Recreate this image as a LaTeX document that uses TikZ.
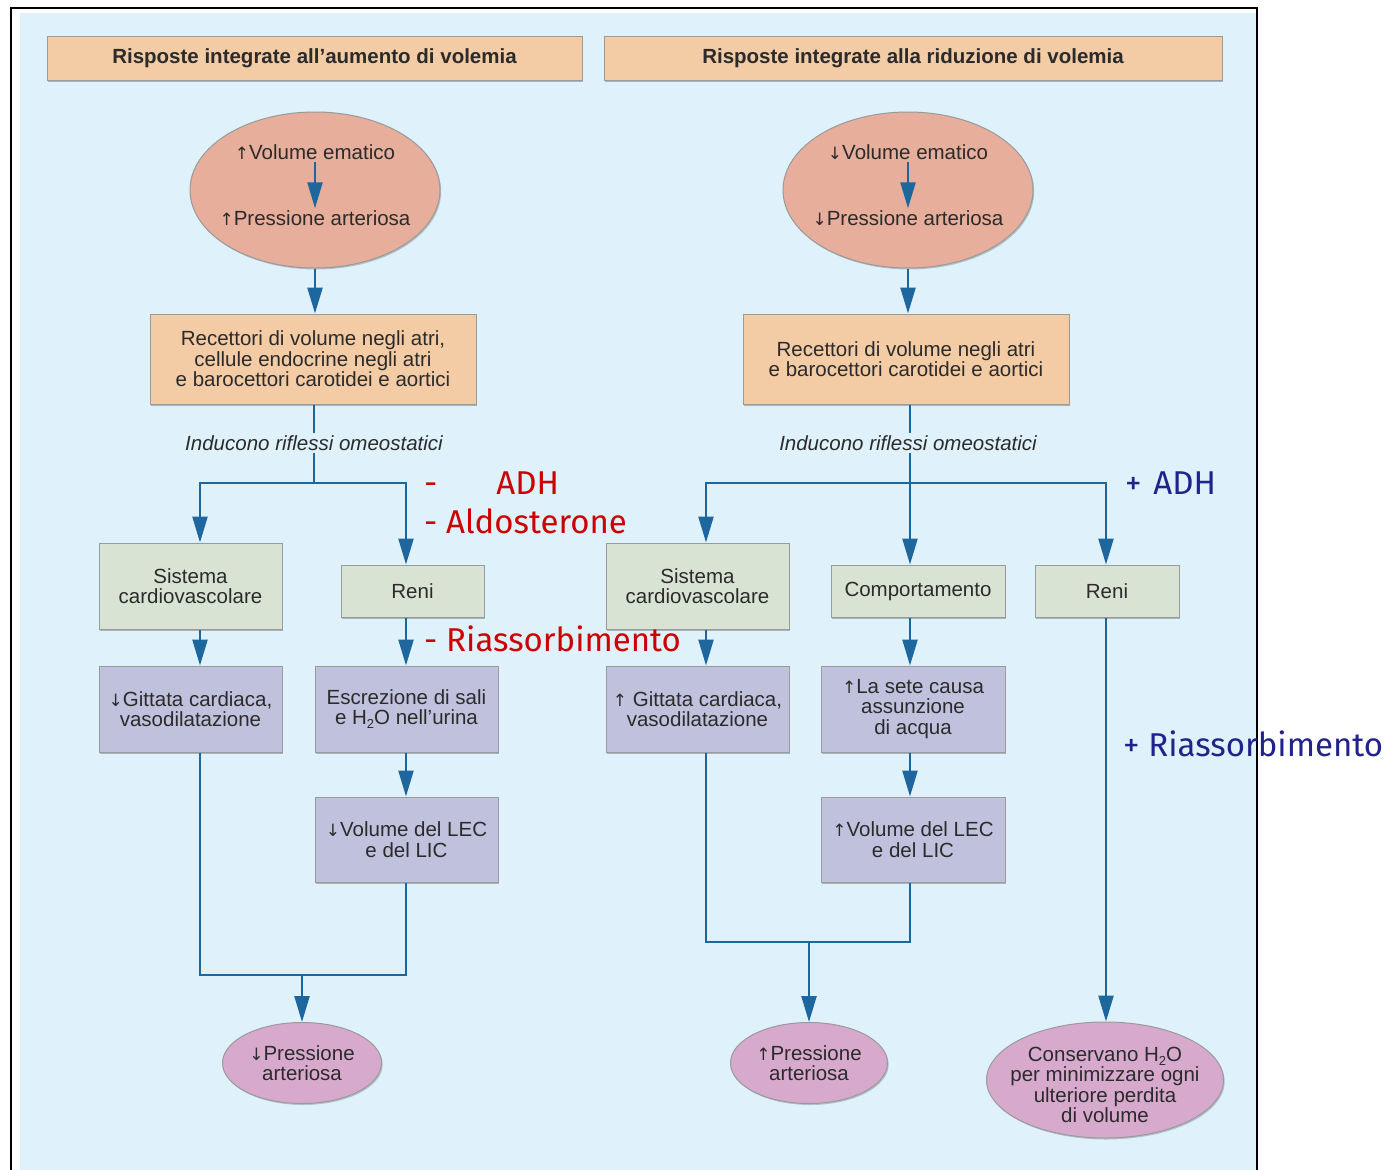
\documentclass[tikz,border=0pt]{standalone}
\usepackage{fontspec}
\setmainfont{Liberation Sans}
\newfontfamily\notefont{Fira Sans}
\newfontfamily\arrowfont{DejaVu Sans}
\usetikzlibrary{arrows.meta,shapes.geometric,shadows}

\definecolor{panelbg}{HTML}{DFF1FB}
\definecolor{peach}{HTML}{F3CBA4}
\definecolor{salmon}{HTML}{E6AE9B}
\definecolor{sage}{HTML}{D9E3D4}
\definecolor{lilac}{HTML}{C0C1DD}
\definecolor{mauve}{HTML}{D7AACD}
\definecolor{flowblue}{HTML}{1D679E}
\definecolor{rim}{HTML}{9A9A9A}
\definecolor{ink}{HTML}{2B2B2B}
\definecolor{minusred}{HTML}{CC0000}
\definecolor{plusblue}{HTML}{22228C}

\newcommand{\subtwo}{\raisebox{-0.35ex}{\fontsize{13}{13}\selectfont 2}}
\newcommand{\upar}{{\arrowfont\fontsize{17}{17}\selectfont ↑}}
\newcommand{\dnar}{{\arrowfont\fontsize{17}{17}\selectfont ↓}}

\tikzset{
  txt/.style={font=\fontsize{20.5}{20.5}\selectfont, text=ink},
  card/.style={rectangle, draw=rim, line width=1pt, align=center, inner sep=0pt, txt,
    drop shadow={shadow xshift=1.2pt, shadow yshift=-1.5pt, fill=black, opacity=0.25}},
  titlebox/.style={card, fill=peach, font=\fontsize{20.5}{22}\selectfont\bfseries},
  sensor/.style={card, fill=peach},
  effector/.style={card, fill=sage},
  result/.style={card, fill=lilac},
  oval/.style={ellipse, draw=rim, line width=1pt, align=center, inner sep=0pt, txt,
    drop shadow={shadow xshift=1.2pt, shadow yshift=-1.5pt, fill=black, opacity=0.2}},
  plain/.style={inner sep=2pt, txt, align=center},
  flow/.style={draw=flowblue, line width=2.4pt},
  flowarrow/.style={flow, -{Triangle[length=26pt,width=15pt]}},
  note/.style={font=\notefont\fontsize{33}{33}\selectfont, anchor=base west, inner sep=0pt},
  minusnote/.style={note, text=minusred},
  plusnote/.style={note, text=plusblue}
}

\begin{document}
\begin{tikzpicture}[x=1pt,y=-1pt]
\useasboundingbox (0,0) rectangle (1390,1170);

% background panel and frame
\fill[panelbg] (20,13) rectangle (1256,1170);
\draw[line width=2.5pt] (11,1170) -- (11,8) -- (1257,8) -- (1257,1170);

% column axes
\coordinate (axL1) at (200,0);
\coordinate (axL2) at (406,0);
\coordinate (axR1) at (706,0);
\coordinate (axR2) at (910,0);
\coordinate (axR3) at (1106,0);

% ---------- headers ----------
\node[titlebox, minimum width=535pt, minimum height=44pt] (hdrL) at (314.5,58)
  {Risposte integrate all’aumento di volemia};
\node[titlebox, minimum width=618pt, minimum height=44pt] (hdrR) at (913,58)
  {Risposte integrate alla riduzione di volemia};

% ---------- left column: volume increase ----------
\node[oval, fill=salmon, minimum width=250pt, minimum height=156pt] (ovalL) at (315,190) {};
\node[plain] (volL) at (315,152) {\upar Volume ematico};
\node[plain] (presL) at (315,218) {\upar Pressione arteriosa};
\draw[flowarrow] (volL.south) -- (presL.north);

\node[sensor, minimum width=326pt, minimum height=90pt] (recL) at (313,359)
  {Recettori di volume negli atri,\\cellule endocrine negli atri\\e barocettori carotidei e aortici};
\draw[flowarrow] (ovalL.south) -- (recL.north -| ovalL.south);

\node[plain, font=\fontsize{20.5}{20.5}\selectfont\itshape] (indL) at (314,443) {Inducono riflessi omeostatici};
\coordinate (jL) at (314,483);
\draw[flow] (recL.south -| jL) -- (indL.north -| jL);
\draw[flow] (indL.south -| jL) -- (jL);

\node[effector, minimum width=183pt, minimum height=86pt] (cvL) at (190.5,586)
  {Sistema\\cardiovascolare};
\node[effector, minimum width=143pt, minimum height=52pt] (reniL) at (412.5,591) {Reni};
\draw[flowarrow] (jL) -| (cvL.north -| axL1);
\draw[flowarrow] (jL) -| (reniL.north -| axL2);

\node[result, minimum width=183pt, minimum height=86pt] (gitL) at (190.5,709)
  {\dnar Gittata cardiaca,\\vasodilatazione};
\node[result, minimum width=183pt, minimum height=86pt] (escL) at (406.5,709)
  {Escrezione di sali\\e H\subtwo O nell’urina};
\node[result, minimum width=183pt, minimum height=85pt] (lecL) at (406.5,839.5)
  {\dnar Volume del LEC\\e del LIC};
\draw[flowarrow] (cvL.south -| axL1) -- (gitL.north -| axL1);
\draw[flowarrow] (reniL.south -| axL2) -- (escL.north -| axL2);
\draw[flowarrow] (escL.south -| axL2) -- (lecL.north -| axL2);

\node[oval, fill=mauve, minimum width=159pt, minimum height=81pt] (presFinL) at (302,1063)
  {\dnar Pressione\\arteriosa};
\coordinate (mL) at (302,975);
\draw[flow] (gitL.south -| axL1) |- (mL) -| (lecL.south -| axL2);
\draw[flowarrow] (mL) -- (presFinL.north);

% ---------- right column: volume decrease ----------
\node[oval, fill=salmon, minimum width=250pt, minimum height=156pt] (ovalR) at (908,190) {};
\node[plain] (volR) at (908,152) {\dnar Volume ematico};
\node[plain] (presR) at (908,218) {\dnar Pressione arteriosa};
\draw[flowarrow] (volR.south) -- (presR.north);

\node[sensor, minimum width=326pt, minimum height=90pt] (recR) at (906,359)
  {Recettori di volume negli atri\\e barocettori carotidei e aortici};
\draw[flowarrow] (ovalR.south) -- (recR.north -| ovalR.south);

\node[plain, font=\fontsize{20.5}{20.5}\selectfont\itshape] (indR) at (908,443) {Inducono riflessi omeostatici};
\coordinate (jR) at (910,483);
\draw[flow] (recR.south -| jR) -- (indR.north -| jR);
\draw[flow] (indR.south -| jR) -- (jR);

\node[effector, minimum width=183pt, minimum height=86pt] (cvR) at (697.5,586)
  {Sistema\\cardiovascolare};
\node[effector, minimum width=174pt, minimum height=52pt] (compR) at (918,591) {Comportamento};
\node[effector, minimum width=144pt, minimum height=52pt] (reniR) at (1107,591) {Reni};
\draw[flowarrow] (jR) -| (cvR.north -| axR1);
\draw[flowarrow] (jR) -- (compR.north -| axR2);
\draw[flowarrow] (jR) -| (reniR.north -| axR3);

\node[result, minimum width=183pt, minimum height=86pt] (gitR) at (697.5,709)
  {\upar\ Gittata cardiaca,\\vasodilatazione};
\node[result, minimum width=184pt, minimum height=86pt] (seteR) at (913,709)
  {\upar La sete causa\\assunzione\\di acqua};
\node[result, minimum width=184pt, minimum height=85pt] (lecR) at (913,839.5)
  {\upar Volume del LEC\\e del LIC};
\draw[flowarrow] (cvR.south -| axR1) -- (gitR.north -| axR1);
\draw[flowarrow] (compR.south -| axR2) -- (seteR.north -| axR2);
\draw[flowarrow] (seteR.south -| axR2) -- (lecR.north -| axR2);

\node[oval, fill=mauve, minimum width=157pt, minimum height=81pt] (presFinR) at (809,1063)
  {\upar Pressione\\arteriosa};
\coordinate (mR) at (809,942);
\draw[flow] (gitR.south -| axR1) |- (mR) -| (lecR.south -| axR2);
\draw[flowarrow] (mR) -- (presFinR.north);

\node[oval, fill=mauve, minimum width=237pt, minimum height=116pt] (consR) at (1105,1080) {};
\node[plain] (consTxt) at (1105,1085)
  {Conservano H\subtwo O\\per minimizzare ogni\\ulteriore perdita\\di volume};
\draw[flowarrow] (reniR.south -| axR3) -- (consR.north -| axR3);

% ---------- hormonal annotations ----------
\node[minusnote] (adhMinus) at (424,494) {-\hspace{59pt}ADH};
\node[minusnote] (aldoMinus) at (424,533) {- Aldosterone};
\node[minusnote] (riasMinus) at (424,651) {- Riassorbimento};
\node[plusnote] (adhPlus) at (1125,494) {+\hspace{3pt} ADH};
\node[plusnote] (riasPlus) at (1123,756) {+ Riassorbimento};
\end{tikzpicture}
\end{document}
